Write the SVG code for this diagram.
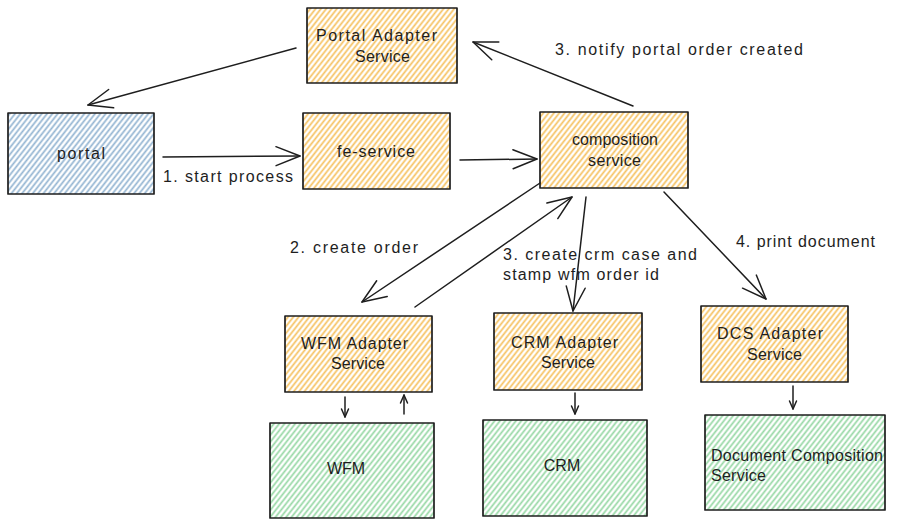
<svg xmlns="http://www.w3.org/2000/svg" width="900" height="527" viewBox="0 0 900 527">
<style>
.t{font-family:"Liberation Sans",Arial,sans-serif;font-size:16px;fill:#1e1e1e}
.box{stroke:#1e1e1e;stroke-width:1.7;stroke-linejoin:round}
.y{fill:url(#hy)}
.b{fill:url(#hb)}
.g{fill:url(#hg)}
.c{fill:none;stroke:#1e1e1e;stroke-width:1.5;stroke-linecap:round}
.big{marker-end:url(#arr)}
.sm{marker-end:url(#arrs)}
</style>
<defs>
<pattern id="hy" patternUnits="userSpaceOnUse" width="4.2" height="4.2" patternTransform="rotate(38)"><rect width="4.2" height="4.2" fill="#fff"/><line x1="2.1" y1="0" x2="2.1" y2="4.2" stroke="#f6c263" stroke-width="1.7"/></pattern>
<pattern id="hb" patternUnits="userSpaceOnUse" width="4.2" height="4.2" patternTransform="rotate(38)"><rect width="4.2" height="4.2" fill="#fff"/><line x1="2.1" y1="0" x2="2.1" y2="4.2" stroke="#94b5d2" stroke-width="1.7"/></pattern>
<pattern id="hg" patternUnits="userSpaceOnUse" width="4.2" height="4.2" patternTransform="rotate(38)"><rect width="4.2" height="4.2" fill="#fff"/><line x1="2.1" y1="0" x2="2.1" y2="4.2" stroke="#98d8a6" stroke-width="1.7"/></pattern>
<marker id="arr" viewBox="-27 -12 30 24" refX="0" refY="0" markerWidth="30" markerHeight="24" markerUnits="userSpaceOnUse" orient="auto">
<path d="M-24,-9.5 L0,0 L-24,9.5" fill="none" stroke="#1e1e1e" stroke-width="1.5" stroke-linecap="round" stroke-linejoin="round"/>
</marker>
<marker id="arrs" viewBox="-11 -6 13 12" refX="0" refY="0" markerWidth="13" markerHeight="12" markerUnits="userSpaceOnUse" orient="auto">
<path d="M-8,-3.5 L0,0 L-8,3.5" fill="none" stroke="#1e1e1e" stroke-width="1.5" stroke-linecap="round" stroke-linejoin="round"/>
</marker>
</defs>
<rect width="900" height="527" fill="#fff"/>

<g id="portal-adapter-service">
<rect class="box y" x="307" y="8" width="150" height="75"/>
<text class="t" x="316" y="41" textLength="121">Portal Adapter</text>
<text class="t" x="355" y="62" textLength="55">Service</text>
</g>
<g id="portal">
<rect class="box b" x="8" y="113" width="146" height="81"/>
<text class="t" x="57" y="159" textLength="48">portal</text>
</g>
<g id="fe-service">
<rect class="box y" x="303" y="113" width="147" height="76"/>
<text class="t" x="337" y="157" textLength="78">fe-service</text>
</g>
<g id="composition-service">
<rect class="box y" x="540" y="112" width="148" height="76"/>
<text class="t" x="572" y="145" textLength="86">composition</text>
<text class="t" x="588" y="166" textLength="53">service</text>
</g>
<g id="wfm-adapter-service">
<rect class="box y" x="285" y="316" width="147" height="76"/>
<text class="t" x="301" y="349" textLength="107">WFM Adapter</text>
<text class="t" x="331" y="369" textLength="54">Service</text>
</g>
<g id="crm-adapter-service">
<rect class="box y" x="494" y="313" width="148" height="77"/>
<text class="t" x="511" y="348" textLength="107">CRM Adapter</text>
<text class="t" x="541" y="368" textLength="54">Service</text>
</g>
<g id="dcs-adapter-service">
<rect class="box y" x="701" y="306" width="147" height="76"/>
<text class="t" x="717" y="339" textLength="106">DCS Adapter</text>
<text class="t" x="747" y="360" textLength="55">Service</text>
</g>
<g id="wfm">
<rect class="box g" x="270" y="423" width="164" height="95"/>
<text class="t" x="346" y="474" text-anchor="middle">WFM</text>
</g>
<g id="crm">
<rect class="box g" x="483" y="420" width="164" height="96"/>
<text class="t" x="562" y="471" text-anchor="middle">CRM</text>
</g>
<g id="document-composition-service">
<rect class="box g" x="705" y="415" width="180" height="95"/>
<text class="t" x="711" y="461" textLength="172">Document Composition</text>
<text class="t" x="711" y="481" textLength="55">Service</text>
</g>

<g id="connectors">
<path class="c big" d="M296,48 L88,105"/>
<path class="c big" d="M163,157 L300,156"/>
<text class="t" x="163" y="182" textLength="130">1. start process</text>
<path class="c big" d="M460,160 L537,159"/>
<path class="c big" d="M633,106 L473,42"/>
<text class="t" x="555" y="55" textLength="248">3. notify portal order created</text>
<path class="c big" d="M540,183 L362,302"/>
<text class="t" x="290" y="253" textLength="128">2. create order</text>
<path class="c big" d="M415,307 L572,197"/>
<path class="c big" d="M586,197 L573,311"/>
<text class="t" x="503" y="260" textLength="194">3. create crm case and</text>
<text class="t" x="503" y="280" textLength="156">stamp wfm order id</text>
<path class="c big" d="M664,192 L766,299"/>
<text class="t" x="736" y="247" textLength="139">4. print document</text>
<path class="c sm" d="M345,397 L345,417"/>
<path class="c sm" d="M404,414 L404,395"/>
<path class="c sm" d="M575,393 L575,414"/>
<path class="c sm" d="M793,386 L793,409"/>
</g>
</svg>
